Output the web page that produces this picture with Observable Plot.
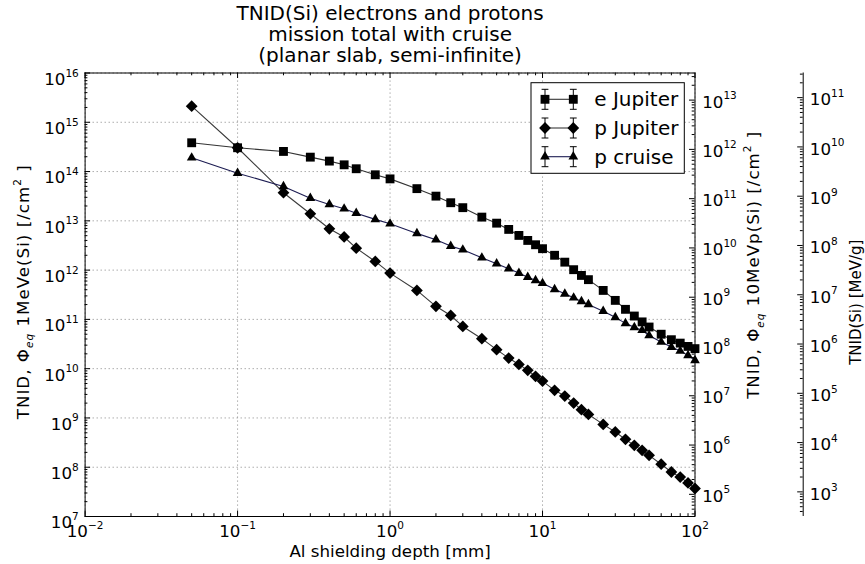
<!DOCTYPE html>
<html><head><meta charset="utf-8">
<script src="https://cdn.jsdelivr.net/npm/d3@7"></script>
<script src="https://cdn.jsdelivr.net/npm/@observablehq/plot@0.6"></script>
<style>html,body{margin:0;padding:0;background:#fff;} svg{display:block;}</style>
</head><body><div id="chart"></div>
<script>
// ---------- text ----------
const titleLines = ["TNID(Si) electrons and protons", "mission total with cruise", "(planar slab, semi-infinite)"];
const xLabel = "Al shielding depth [mm]";
const yLabelLeft = "TNID, Φ_{eq} 1MeVe(Si) [/cm^{2} ]";
const yLabelRight1 = "TNID, Φ_{eq} 10MeVp(Si) [/cm^{2} ]";
const yLabelRight2 = "TNID(Si) [MeV/g]";
const seriesNames = ["e Jupiter", "p Jupiter", "p cruise"];

// ---------- data (Al depth in mm, left-axis units) ----------
const depth = [0.05, 0.1, 0.2, 0.3, 0.4, 0.5, 0.6, 0.8, 1.0, 1.5, 2.0, 2.5, 3.0, 4.0, 5.0, 6.0, 7.0, 8.0, 9.0, 10,
  12, 14, 16, 18, 20, 25, 30, 35, 40, 45, 50, 60, 70, 80, 90, 100];
const eJupiter = [3.84e14, 3.04e14, 2.56e14, 1.96e14, 1.63e14, 1.37e14, 1.14e14, 8.6e13, 7.1e13, 4.5e13, 3.17e13, 2.33e13,
  1.85e13, 1.19e13, 8.97e12, 6.7e12, 5.06e12, 4.0e12, 3.27e12, 2.72e12, 2.0e12, 1.45e12, 1.02e12, 7.8e11, 6.4e11,
  3.87e11, 2.43e11, 1.6e11, 1.17e11, 8.9e10, 7.0e10, 5.0e10, 3.87e10, 3.3e10, 2.83e10, 2.55e10];
const pJupiter = [2.12e15, 3.04e14, 3.72e13, 1.39e13, 6.9e12, 4.7e12, 2.79e12, 1.5e12, 8.7e11, 3.87e11, 1.84e11, 1.2e11,
  7.2e10, 4.06e10, 2.43e10, 1.64e10, 1.22e10, 9.25e9, 6.98e9, 5.6e9, 3.63e9, 2.78e9, 2.0e9, 1.47e9, 1.18e9,
  7.4e8, 5.2e8, 3.68e8, 2.78e8, 2.2e8, 1.74e8, 1.15e8, 8.0e7, 6.3e7, 4.8e7, 3.7e7];
const pCruise = [1.9e14, 9.27e13, 4.99e13, 2.88e13, 2.15e13, 1.76e13, 1.43e13, 1.07e13, 8.7e12, 5.56e12, 4.14e12, 3.07e12,
  2.59e12, 1.78e12, 1.35e12, 1.07e12, 8.7e11, 7.2e11, 6.2e11, 5.4e11, 4.07e11, 3.3e11, 2.75e11, 2.32e11, 2.01e11,
  1.47e11, 1.1e11, 8.3e10, 6.9e10, 6.0e10, 4.7e10, 3.47e10, 2.74e10, 2.28e10, 1.86e10, 1.47e10];

// axis tick exponents
const xExponents = [-2, -1, 0, 1, 2];
const yLeftExponents = [7, 8, 9, 10, 11, 12, 13, 14, 15, 16];
const yRight1Exponents = [5, 6, 7, 8, 9, 10, 11, 12, 13];
const yRight2Exponents = [3, 4, 5, 6, 7, 8, 9, 10, 11];
// conversion: left-axis value = right-axis value * factor
const right1Factor = Math.pow(10, 2.45);
const right2Factor = Math.pow(10, 4.5);

// ---------- layout / style ----------
const W = 865, H = 564, mL = 84.6, mR = 170.5, mT = 72.5, mB = 48;
const plotW = W - mL - mR, plotH = H - mT - mB;
const spine2Offset = 108.2;
const FONT = "DejaVu Sans";
const labelSpacing = new Map([[yLabelLeft, 1.0], [yLabelRight1, 1.0]]);
const seriesStyle = [
  {symbol: "square", d3sym: d3.symbolSquare, r: 5.0, line: "#333333"},
  {symbol: "diamond2", d3sym: d3.symbolDiamond2, r: 5.3, line: "#3a3a3a"},
  {symbol: "triangle", d3sym: d3.symbolTriangle, r: 3.6, line: "#1c1c52"}
];
const seriesValues = [eJupiter, pJupiter, pCruise];
const rows = seriesValues.map((vals, s) => depth.map((d, i) => ({depth: d, value: vals[i], series: seriesNames[s]})));

const pow10 = k => Math.pow(10, k);
const minorsOf = (exps, factor, lo, hi) => {
  const out = [];
  for (let k = exps[0] - 1; k <= exps[exps.length - 1]; k++)
    for (let j = 2; j <= 9; j++) { const v = j * pow10(k) * factor; if (v > lo && v < hi) out.push(v); }
  return out;
};
const fmtExp = k => "10^{" + (k < 0 ? "\u2212" + (-k) : k) + "}";

const xMajor = xExponents.map(pow10);
const xMinor = minorsOf(xExponents, 1, 0.01, 100);
const yMajor = yLeftExponents.map(pow10);
const yMinor = minorsOf(yLeftExponents, 1, 1e7, 1e16);
const r1Major = yRight1Exponents.map(k => pow10(k) * right1Factor);
const r1Minor = minorsOf(yRight1Exponents, right1Factor, 1e7, 1e16);
const r2Major = yRight2Exponents.map(k => pow10(k) * right2Factor);
const r2Minor = minorsOf(yRight2Exponents, right2Factor, 1e7, 1e16);

const MAJ = 5.5, MIN = 2.8;
const gridStyle = {stroke: "#8c8c8c", strokeOpacity: 1, strokeWidth: 0.9, strokeDasharray: "1.2,2.8"};

const marks = [
  Plot.gridX(xMajor, gridStyle),
  Plot.gridY(yMajor, gridStyle),
  // data lines and markers
  ...rows.map((r, s) => Plot.line(r, {x: "depth", y: "value", stroke: seriesStyle[s].line, strokeWidth: 1.1})),
  ...rows.map((r, s) => Plot.dot(r, {x: "depth", y: "value", symbol: seriesStyle[s].symbol, r: seriesStyle[s].r, fill: "black", stroke: "none"})),
  Plot.frame({stroke: "black", strokeWidth: 1}),
  // bottom / top ticks (inward)
  Plot.tickX(xMajor, {insetTop: plotH - MAJ, stroke: "black"}),
  Plot.tickX(xMinor, {insetTop: plotH - MIN, stroke: "black"}),
  Plot.tickX(xMajor, {insetBottom: plotH - MAJ, stroke: "black"}),
  Plot.tickX(xMinor, {insetBottom: plotH - MIN, stroke: "black"}),
  // left ticks
  Plot.tickY(yMajor, {insetRight: plotW - MAJ, stroke: "black"}),
  Plot.tickY(yMinor, {insetRight: plotW - MIN, stroke: "black"}),
  // right spine ticks (10 MeV p axis)
  Plot.tickY(r1Major, {insetLeft: plotW - MAJ, stroke: "black"}),
  Plot.tickY(r1Minor, {insetLeft: plotW - MIN, stroke: "black"}),
  // second right spine (MeV/g)
  Plot.ruleX([100], {dx: spine2Offset, stroke: "black", strokeWidth: 1}),
  Plot.tickY(r2Major, {insetLeft: plotW - MAJ, dx: spine2Offset, stroke: "black"}),
  Plot.tickY(r2Minor, {insetLeft: plotW - MIN, dx: spine2Offset, stroke: "black"}),
  // tick labels
  Plot.axisX({anchor: "bottom", ticks: xMajor, tickSize: 0, tickPadding: 8.5, label: null, fontSize: 16.7,
    tickFormat: d => fmtExp(Math.round(Math.log10(d)))}),
  Plot.axisY({anchor: "left", ticks: yMajor, tickSize: 0, tickPadding: 6.3, dy: 6.5, label: null, fontSize: 16.7,
    tickFormat: d => fmtExp(Math.round(Math.log10(d)))}),
  Plot.text(r1Major, {y: d => d, text: d => fmtExp(Math.round(Math.log10(d / right1Factor))),
    frameAnchor: "right", textAnchor: "start", dx: 7.2, dy: 2.1, fontSize: 16.7}),
  Plot.text(r2Major, {y: d => d, text: d => fmtExp(Math.round(Math.log10(d / right2Factor))),
    frameAnchor: "right", textAnchor: "start", dx: spine2Offset + 6.6, dy: 2.4, fontSize: 16.7}),
  // axis titles
  Plot.text([xLabel], {text: d => d, frameAnchor: "bottom", lineAnchor: "top", textAnchor: "middle", dy: 29, fontSize: 16.7}),
  Plot.text([yLabelLeft], {text: d => d, frameAnchor: "left", rotate: -90, textAnchor: "middle", dx: 23 - mL, dy: -3, fontSize: 16.7}),
  Plot.text([yLabelRight1], {text: d => d, frameAnchor: "right", rotate: -90, textAnchor: "middle", dx: 59, dy: -30, fontSize: 16.7}),
  Plot.text([yLabelRight2], {text: d => d, frameAnchor: "right", rotate: -90, textAnchor: "middle", dx: 161.5, dy: 7.5, fontSize: 15}),
  // title
  Plot.text([titleLines.join("\n")], {text: d => d, frameAnchor: "top", lineAnchor: "top", textAnchor: "middle", dy: -67.5, lineHeight: 1.05, fontSize: 20})
];

const svg = Plot.plot({
  width: W, height: H,
  marginLeft: mL, marginRight: mR, marginTop: mT, marginBottom: mB,
  style: {fontFamily: FONT, fontSize: "16.7px", color: "black", background: "white", overflow: "visible"},
  x: {type: "log", domain: [0.01, 100]},
  y: {type: "log", domain: [1e7, 1e16]},
  marks
});
document.getElementById("chart").appendChild(svg);

// ---------- legend (inside the axes, upper right) ----------
const lg = d3.select(svg).append("g").attr("font-family", FONT).attr("text-anchor", "start");
lg.append("rect").attr("x", 531).attr("y", 82.7).attr("width", 153.3).attr("height", 90.6)
  .attr("fill", "white").attr("stroke", "black").attr("stroke-width", 1);
seriesNames.forEach((name, i) => {
  const st = seriesStyle[i];
  const cy = 99.3 + i * 28.7;
  const xs = [545, 573.3];
  lg.append("line").attr("x1", xs[0]).attr("x2", xs[1]).attr("y1", cy).attr("y2", cy)
    .attr("stroke", st.line).attr("stroke-width", 1.1);
  xs.forEach(x => {
    lg.append("line").attr("x1", x).attr("x2", x).attr("y1", cy - 10).attr("y2", cy + 10).attr("stroke", "black");
    lg.append("line").attr("x1", x - 3.4).attr("x2", x + 3.4).attr("y1", cy - 10).attr("y2", cy - 10).attr("stroke", "black");
    lg.append("line").attr("x1", x - 3.4).attr("x2", x + 3.4).attr("y1", cy + 10).attr("y2", cy + 10).attr("stroke", "black");
    lg.append("path").attr("transform", `translate(${x},${cy})`)
      .attr("d", d3.symbol(st.d3sym, st.r * st.r * Math.PI)()).attr("fill", "black");
  });
  lg.append("text").attr("x", 594.3).attr("y", cy + 7).attr("font-size", 20).attr("fill", "black")
    .attr("text-anchor", "start").text(name);
});

// ---------- superscripts / subscripts, label spacing ----------
d3.select(svg).selectAll("text").each(function () {
  const el = this;
  if (el.querySelector("tspan")) return;
  const str = el.textContent;
  const ls = labelSpacing.get(str);
  if (ls) el.setAttribute("letter-spacing", ls);
  if (!/[\^_]\{/.test(str)) return;
  const s = parseFloat(getComputedStyle(el).fontSize) || 16.7;
  const parts = str.split(/(\^\{[^}]*\}|_\{[^}]*\})/).filter(p => p !== "");
  el.textContent = "";
  let shift = 0;
  for (const p of parts) {
    const t = d3.select(el).append("tspan");
    let target = 0, txt = p, small = false, italic = false;
    if (p.startsWith("^{")) { target = -0.5 * s; txt = p.slice(2, -1); small = true; }
    else if (p.startsWith("_{")) { target = 0.25 * s; txt = p.slice(2, -1); small = true; italic = true; }
    const dy = target - shift;
    if (dy) t.attr("dy", dy);
    shift = target;
    if (small) t.attr("font-size", 0.63 * s);
    if (italic) t.attr("font-style", "italic");
    t.text(txt);
  }
});
</script>
</body></html>
